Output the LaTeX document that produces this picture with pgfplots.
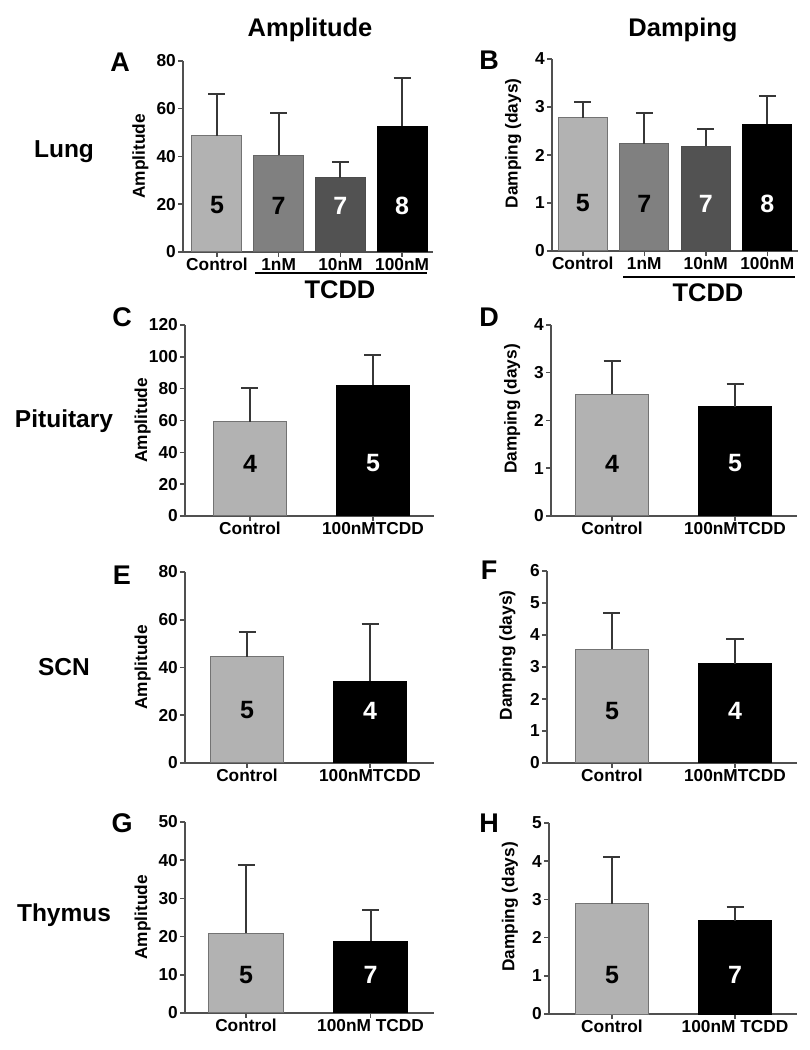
\documentclass[border=0pt]{standalone}
\usepackage{fontspec}
\setmainfont{Liberation Sans}
\usepackage{pgfplots}
\pgfplotsset{compat=1.18}

\definecolor{ctrl}{RGB}{178,178,178}
\definecolor{nmone}{RGB}{128,128,128}
\definecolor{nmten}{RGB}{82,82,82}
\definecolor{axisgray}{RGB}{80,80,80}
\definecolor{errgray}{RGB}{55,55,55}

\newcommand{\tickfont}{\fontsize{17.3}{19}\selectfont\bfseries}
\newcommand{\numfont}{\fontsize{25}{27}\selectfont\bfseries}
\newcommand{\bigfont}{\fontsize{25.5}{27}\selectfont\bfseries}
\newcommand{\rowfont}{\fontsize{24.5}{27}\selectfont\bfseries}
\newcommand{\letfont}{\fontsize{27}{29}\selectfont\bfseries}

\pgfplotsset{
  panel/.style={
    scale only axis, anchor=south west,
    axis lines=left,
    axis line style={-, line width=1.5pt, color=axisgray},
    tick style={line width=1.5pt, color=axisgray},
    tick align=outside, major tick length=5pt,
    ymin=0, clip=false,
    /pgf/number format/assume math mode=true,
    tick label style={font=\tickfont, text=black},
    xticklabel style={inner sep=1pt},
    yticklabel style={inner sep=2pt},
    label style={font=\tickfont},
  },
  amp/.style={ylabel={Amplitude},
    ylabel style={at={(axis description cs:-0.17,0.5)}, anchor=center}},
  damp/.style={ylabel={Damping (days)},
    ylabel style={at={(axis description cs:-0.158,0.56)}, anchor=center}},
  bar/.style={ybar, bar shift=0pt, line width=1pt,
    error bars/y dir=plus, error bars/y explicit,
    error bars/error bar style={line width=2pt, color=errgray},
    error bars/error mark options={rotate=90, mark size=8.5pt, line width=2pt, color=errgray}},
}

\begin{document}
\begin{tikzpicture}
\path[use as bounding box] (0pt,0pt) rectangle (810pt,1050pt);

% column titles and row labels
\node[font=\bigfont, anchor=base] at (310pt,1013pt) {Amplitude};
\node[font=\bigfont, anchor=base] at (683pt,1013pt) {Damping};
\node[font=\rowfont, anchor=base] at (64pt,892pt) {Lung};
\node[font=\rowfont, anchor=base] at (64pt,622pt) {Pituitary};
\node[font=\rowfont, anchor=base] at (64pt,374pt) {SCN};
\node[font=\rowfont, anchor=base] at (64pt,128pt) {Thymus};

% panel letters
\node[font=\letfont] at (120pt,988pt) {A};
\node[font=\letfont] at (489pt,990pt) {B};
\node[font=\letfont] at (122pt,733pt) {C};
\node[font=\letfont] at (489pt,733pt) {D};
\node[font=\letfont] at (122pt,475pt) {E};
\node[font=\letfont] at (489pt,480pt) {F};
\node[font=\letfont] at (122pt,227pt) {G};
\node[font=\letfont] at (489pt,227pt) {H};

% TCDD brackets
\draw[line width=2pt] (255pt,777pt) -- (427pt,777pt);
\node[font=\bigfont] at (340pt,760pt) {TCDD};
\draw[line width=2pt] (623pt,773pt) -- (795pt,773pt);
\node[font=\bigfont] at (708pt,757pt) {TCDD};

% A: lung amplitude
\begin{axis}[panel, amp, at={(183pt,798pt)}, width=250pt, height=191pt,
  xmin=-0.55, xmax=3.5, ymax=80, ytick={0,20,40,60,80},
  xtick={0,1,2,3}, xticklabels={Control,1nM,10nM,100nM}]
  \addplot[bar, bar width=0.81, fill=ctrl, draw=black!55] coordinates {(0,48.6) +- (0,17.7)};
  \addplot[bar, bar width=0.81, fill=nmone, draw=black!60] coordinates {(1,40.5) +- (0,17.7)};
  \addplot[bar, bar width=0.81, fill=nmten, draw=black!70] coordinates {(2,31.1) +- (0,6.7)};
  \addplot[bar, bar width=0.81, fill=black, draw=black] coordinates {(3,52.6) +- (0,20.3)};
  \node[font=\numfont] at (axis cs:0,19.5) {5};
  \node[font=\numfont] at (axis cs:1,19.5) {7};
  \node[font=\numfont, text=white] at (axis cs:2,19.5) {7};
  \node[font=\numfont, text=white] at (axis cs:3,19.5) {8};
\end{axis}

% B: lung damping
\begin{axis}[panel, damp, at={(552pt,799pt)}, width=246pt, height=192pt,
  xmin=-0.5, xmax=3.5, ymax=4, ytick={0,1,2,3,4},
  xtick={0,1,2,3}, xticklabels={Control,1nM,10nM,100nM}]
  \addplot[bar, bar width=0.8, fill=ctrl, draw=black!55] coordinates {(0,2.78) +- (0,0.33)};
  \addplot[bar, bar width=0.8, fill=nmone, draw=black!60] coordinates {(1,2.23) +- (0,0.64)};
  \addplot[bar, bar width=0.8, fill=nmten, draw=black!70] coordinates {(2,2.18) +- (0,0.37)};
  \addplot[bar, bar width=0.8, fill=black, draw=black] coordinates {(3,2.64) +- (0,0.58)};
  \node[font=\numfont] at (axis cs:0,0.99) {5};
  \node[font=\numfont] at (axis cs:1,0.99) {7};
  \node[font=\numfont, text=white] at (axis cs:2,0.99) {7};
  \node[font=\numfont, text=white] at (axis cs:3,0.99) {8};
\end{axis}

% C: pituitary amplitude
\begin{axis}[panel, amp, at={(185pt,534pt)}, width=249pt, height=191pt,
  xmin=-0.528, xmax=1.496, ymax=120, ytick={0,20,...,120},
  xtick={0,1}, xticklabels={Control,100nMTCDD}]
  \addplot[bar, bar width=0.6, fill=ctrl, draw=black!55] coordinates {(0,59.1) +- (0,21.5)};
  \addplot[bar, bar width=0.6, fill=black, draw=black] coordinates {(1,82.1) +- (0,19.1)};
  \node[font=\numfont] at (axis cs:0,33) {4};
  \node[font=\numfont, text=white] at (axis cs:1,33) {5};
\end{axis}

% D: pituitary damping
\begin{axis}[panel, damp, at={(551pt,534pt)}, width=246pt, height=191pt,
  xmin=-0.496, xmax=1.504, ymax=4, ytick={0,1,2,3,4},
  xtick={0,1}, xticklabels={Control,100nMTCDD}]
  \addplot[bar, bar width=0.6, fill=ctrl, draw=black!55] coordinates {(0,2.55) +- (0,0.70)};
  \addplot[bar, bar width=0.6, fill=black, draw=black] coordinates {(1,2.29) +- (0,0.47)};
  \node[font=\numfont] at (axis cs:0,1.1) {4};
  \node[font=\numfont, text=white] at (axis cs:1,1.1) {5};
\end{axis}

% E: SCN amplitude
\begin{axis}[panel, amp, at={(185pt,287pt)}, width=249pt, height=191pt,
  xmin=-0.504, xmax=1.52, ymax=80, ytick={0,20,40,60,80},
  xtick={0,1}, xticklabels={Control,100nMTCDD}]
  \addplot[bar, bar width=0.6, fill=ctrl, draw=black!55] coordinates {(0,44.4) +- (0,10.5)};
  \addplot[bar, bar width=0.6, fill=black, draw=black] coordinates {(1,34.2) +- (0,24.0)};
  \node[font=\numfont] at (axis cs:0,22) {5};
  \node[font=\numfont, text=white] at (axis cs:1,22) {4};
\end{axis}

% F: SCN damping
\begin{axis}[panel, damp, at={(547pt,287pt)}, width=250pt, height=192pt,
  xmin=-0.528, xmax=1.504, ymax=6, ytick={0,1,...,6},
  xtick={0,1}, xticklabels={Control,100nMTCDD}]
  \addplot[bar, bar width=0.6, fill=ctrl, draw=black!55] coordinates {(0,3.56) +- (0,1.14)};
  \addplot[bar, bar width=0.6, fill=black, draw=black] coordinates {(1,3.10) +- (0,0.78)};
  \node[font=\numfont] at (axis cs:0,1.63) {5};
  \node[font=\numfont, text=white] at (axis cs:1,1.63) {4};
\end{axis}

% G: thymus amplitude
\begin{axis}[panel, amp, at={(185pt,37pt)}, width=249pt, height=191pt,
  xmin=-0.49, xmax=1.51, ymax=50, ytick={0,10,...,50},
  xtick={0,1}, xticklabels={Control,100nM TCDD}]
  \addplot[bar, bar width=0.6, fill=ctrl, draw=black!55] coordinates {(0,20.9) +- (0,17.8)};
  \addplot[bar, bar width=0.6, fill=black, draw=black] coordinates {(1,18.8) +- (0,8.2)};
  \node[font=\numfont] at (axis cs:0,9.9) {5};
  \node[font=\numfont, text=white] at (axis cs:1,9.9) {7};
\end{axis}

% H: thymus damping
\begin{axis}[panel, damp, at={(549pt,36pt)}, width=248pt, height=191pt,
  xmin=-0.512, xmax=1.504, ymax=5, ytick={0,1,...,5},
  xtick={0,1}, xticklabels={Control,100nM TCDD}]
  \addplot[bar, bar width=0.6, fill=ctrl, draw=black!55] coordinates {(0,2.89) +- (0,1.22)};
  \addplot[bar, bar width=0.6, fill=black, draw=black] coordinates {(1,2.44) +- (0,0.36)};
  \node[font=\numfont] at (axis cs:0,1.02) {5};
  \node[font=\numfont, text=white] at (axis cs:1,1.02) {7};
\end{axis}
\end{tikzpicture}
\end{document}
